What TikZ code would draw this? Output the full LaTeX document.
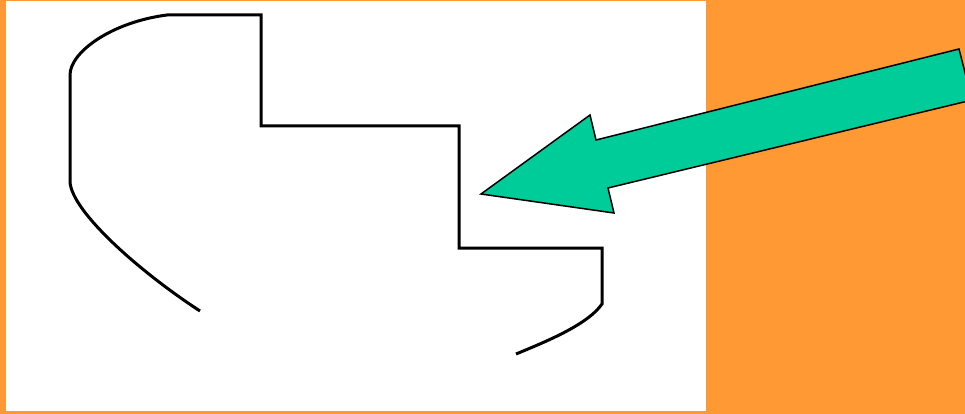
\documentclass[tikz,border=0pt]{standalone}
\definecolor{bgorange}{HTML}{FF9933}
\definecolor{arrowgreen}{HTML}{00CC99}
\begin{document}
\begin{tikzpicture}[x=1pt,y=-1pt,
  outline/.style={line width=3pt,black,line join=miter},
  bigarrow/.style={fill=arrowgreen,draw=black,line width=1.5pt,line join=miter}]
\useasboundingbox (0,0) rectangle (965,414);
\fill[bgorange] (0,0) rectangle (965,414);
\fill[white] (6,1) rectangle (706,411);
% outline path
\coordinate (p0) at (200,311);
\coordinate (p1) at (70,182);
\coordinate (p2) at (70,75);
\coordinate (p3) at (167,15);
\coordinate (p4) at (261,15);
\coordinate (p5) at (261,126);
\coordinate (p6) at (459,126);
\coordinate (p7) at (459,248);
\coordinate (p8) at (602,248);
\coordinate (p9) at (602,304);
\coordinate (p10) at (516,354);
\draw[outline] (p0) .. controls (140,272) and (72,212) .. (p1) -- (p2)
  .. controls (70,52) and (112,22) .. (p3) -- (p4) -- (p5) -- (p6) -- (p7) -- (p8) -- (p9)
  .. controls (588,324) and (550,340) .. (p10);
% arrow
\clip (0,0) rectangle (965,414);
\draw[bigarrow] (481,194) -- (590,115) -- (596,140) -- (959,49) -- (972,100) -- (608,188) -- (614,213) -- cycle;
\end{tikzpicture}
\end{document}
